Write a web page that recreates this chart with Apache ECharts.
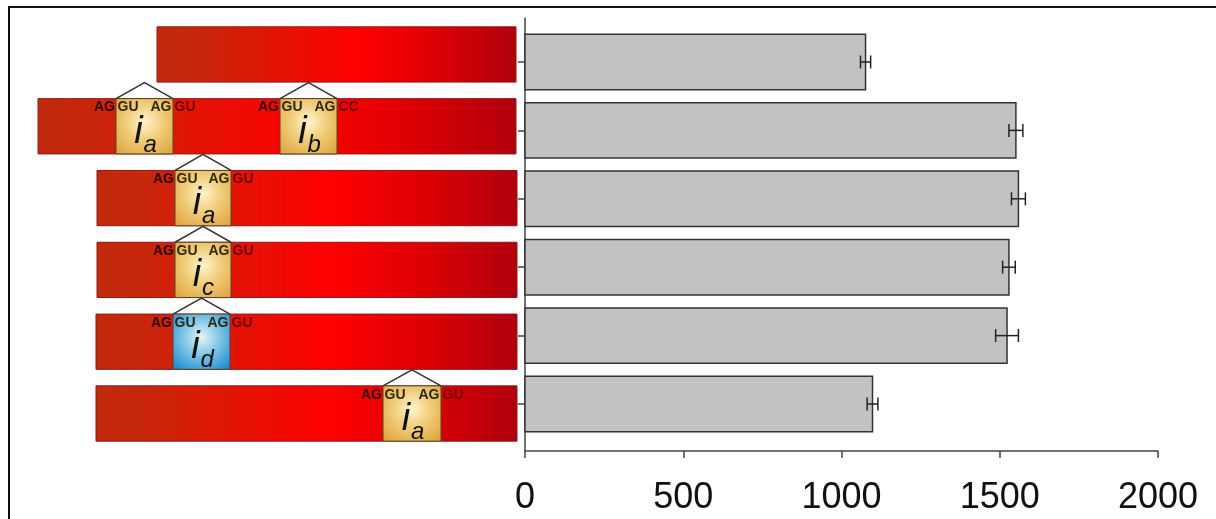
<!DOCTYPE html>
<html>
<head>
<meta charset="utf-8">
<script src="https://cdn.jsdelivr.net/npm/echarts@6/dist/echarts.min.js"></script>
<style>
  html, body { margin: 0; padding: 0; background: #fff; }
  #chart { width: 1216px; height: 519px; }
</style>
</head>
<body>
<div id="chart"></div>
<script>
// rows, top to bottom
const constructs = ['no intron', 'ia + ib', 'ia (5\')', 'ic', 'id', 'ia (3\')'];

// bar values + error
const expression = [1076, 1551, 1559, 1529, 1523, 1098];
const expressionErr = [16, 22, 22, 20, 36, 17];
const xTicks = [0, 500, 1000, 1500, 2000];

// gene drawings, position along the construct
const geneStart = [137, 18, 77, 77, 76, 76];
const geneEnd = [496, 496, 497, 497, 497, 497];

const intronRow = [1, 1, 2, 3, 4, 5];
const intronStart = [96, 260, 155, 155, 153, 363];
const intronEnd = [153, 317, 211, 211, 210, 421];
const intronName = ['a', 'b', 'a', 'c', 'd', 'a'];
const intronExit = ['GU', 'CC', 'GU', 'GU', 'GU', 'GU'];

const FONT = '"Liberation Sans", Arial, sans-serif';

const chart = echarts.init(document.getElementById('chart'));

function renderGene(params, api) {
    const row = api.value(0);
    const a = api.coord([api.value(1), row]);
    const b = api.coord([api.value(2), row]);
    const h = api.size([0, 1])[1] * 0.77;
    return {
        type: 'rect',
        shape: { x: a[0], y: a[1] - h / 2, width: b[0] - a[0], height: h },
        style: {
            fill: new echarts.graphic.LinearGradient(0, 0, 1, 0, [
                { offset: 0, color: '#c12a0b' },
                { offset: 0.12, color: '#c8260a' },
                { offset: 0.56, color: '#ff0000' },
                { offset: 0.8, color: '#d80004' },
                { offset: 1, color: '#b0000c' }
            ]),
            stroke: '#8a1a1a',
            lineWidth: 1
        }
    };
}

function renderIntron(params, api) {
    const i = params.dataIndex;
    const row = api.value(0);
    const a = api.coord([api.value(1), row]);
    const b = api.coord([api.value(2), row]);
    const h = api.size([0, 1])[1] * 0.77;
    const top = a[1] - h / 2;
    const x0 = a[0], x1 = b[0], w = x1 - x0;
    const blue = intronName[i] === 'd';
    const fill = new echarts.graphic.RadialGradient(0.5, 0.42, 0.75, blue ? [
        { offset: 0, color: '#e4f4f4' },
        { offset: 0.45, color: '#7cc4e6' },
        { offset: 1, color: '#1486cc' }
    ] : [
        { offset: 0, color: '#fff4cc' },
        { offset: 0.45, color: '#f0cc78' },
        { offset: 1, color: '#dca23c' }
    ]);
    const small = 'bold 14px ' + FONT;
    return {
        type: 'group',
        children: [
            { type: 'rect', shape: { x: x0, y: top, width: w, height: h },
              style: { fill: fill, stroke: '#5a4422', lineWidth: 1 } },
            { type: 'polyline', shape: { points: [[x0, top], [x0 + w / 2, top - 16], [x1, top]] },
              style: { fill: 'none', stroke: '#333', lineWidth: 1.5 } },
            { type: 'text', x: x0 - 1, y: top + 2,
              style: { text: 'AG', font: small, align: 'right', verticalAlign: 'top', fill: '#2a0606' } },
            { type: 'text', x: x0 + 1.5, y: top + 2,
              style: { text: 'GU', font: small, align: 'left', verticalAlign: 'top', fill: '#2e2612' } },
            { type: 'text', x: x1 - 1.5, y: top + 2,
              style: { text: 'AG', font: small, align: 'right', verticalAlign: 'top', fill: '#2e2612' } },
            { type: 'text', x: x1 + 1.5, y: top + 2,
              style: { text: intronExit[i], font: small, align: 'left', verticalAlign: 'top', fill: '#6e0000' } },
            { type: 'text', x: x0 + w / 2 - 6, y: top + h - 3,
              style: { text: 'i', font: 'italic 38px ' + FONT, align: 'center', verticalAlign: 'bottom', fill: '#111' } },
            { type: 'text', x: x0 + w / 2 - 1, y: top + h + 3,
              style: { text: intronName[i], font: 'italic 24px ' + FONT, align: 'left', verticalAlign: 'bottom', fill: '#111' } }
        ]
    };
}

function renderBar(params, api) {
    const row = api.value(1);
    const a = api.coord([0, row]);
    const b = api.coord([api.value(0), row]);
    const h = api.size([0, 1])[1] * 0.81;
    return {
        type: 'rect',
        shape: { x: a[0], y: a[1] - h / 2, width: b[0] - a[0], height: h },
        style: { fill: '#c2c2c2', stroke: '#333', lineWidth: 1.5 }
    };
}

function renderErr(params, api) {
    const row = api.value(1);
    const lo = api.coord([api.value(0) - api.value(2), row]);
    const hi = api.coord([api.value(0) + api.value(2), row]);
    const cap = 6.5;
    const ls = { stroke: '#222', lineWidth: 1.5 };
    return {
        type: 'group',
        children: [
            { type: 'line', shape: { x1: lo[0], y1: lo[1], x2: hi[0], y2: hi[1] }, style: ls },
            { type: 'line', shape: { x1: lo[0], y1: lo[1] - cap, x2: lo[0], y2: lo[1] + cap }, style: ls },
            { type: 'line', shape: { x1: hi[0], y1: hi[1] - cap, x2: hi[0], y2: hi[1] + cap }, style: ls }
        ]
    };
}

const rows = constructs.map((c, i) => i);

const option = {
    animation: false,
    grid: [
        { left: 525, right: 58, top: 18, bottom: 68 },
        { left: 20, width: 500, top: 18, bottom: 68 }
    ],
    xAxis: [
        {
            gridIndex: 0,
            type: 'value',
            min: xTicks[0],
            max: xTicks[xTicks.length - 1],
            interval: 500,
            axisLine: { onZero: false, lineStyle: { color: '#444', width: 1.5 } },
            axisTick: { show: true, length: 7, lineStyle: { color: '#444', width: 1.5 } },
            axisLabel: {
                fontSize: 36, margin: 29, color: '#111',
                fontFamily: FONT,
                formatter: v => String(v)
            },
            splitLine: { show: false }
        },
        { gridIndex: 1, type: 'value', min: 0, max: 500, show: false }
    ],
    yAxis: [
        {
            gridIndex: 0,
            type: 'value',
            inverse: true,
            min: -0.643,
            max: 5.687,
            axisLine: { show: true, onZero: false, lineStyle: { color: '#444', width: 1.5 } },
            axisTick: { show: true, length: 7, customValues: rows, lineStyle: { color: '#444', width: 1.5 } },
            axisLabel: { show: false },
            splitLine: { show: false }
        },
        { gridIndex: 1, type: 'value', inverse: true, min: -0.508, max: 5.522, show: false }
    ],
    graphic: [
        { type: 'rect', shape: { x: 9, y: 7, width: 1240, height: 560 },
          style: { fill: 'none', stroke: '#111', lineWidth: 2 }, silent: true }
    ],
    series: [
        {
            type: 'custom', name: 'genes', xAxisIndex: 1, yAxisIndex: 1,
            renderItem: renderGene,
            data: rows.map(i => [i, geneStart[i], geneEnd[i]]),
            encode: { x: [1, 2], y: 0 },
            clip: false
        },
        {
            type: 'custom', name: 'introns', xAxisIndex: 1, yAxisIndex: 1,
            renderItem: renderIntron,
            data: intronRow.map((r, k) => [r, intronStart[k], intronEnd[k]]),
            encode: { x: [1, 2], y: 0 },
            clip: false,
            z: 3
        },
        {
            type: 'custom', name: 'expression', xAxisIndex: 0, yAxisIndex: 0,
            renderItem: renderBar,
            data: expression.map((v, i) => [v, i]),
            encode: { x: 0, y: 1 }
        },
        {
            type: 'custom', name: 'error', xAxisIndex: 0, yAxisIndex: 0,
            renderItem: renderErr,
            data: expression.map((v, i) => [v, i, expressionErr[i]]),
            encode: { x: 0, y: 1 },
            z: 4
        }
    ]
};

chart.setOption(option);
</script>
</body>
</html>
